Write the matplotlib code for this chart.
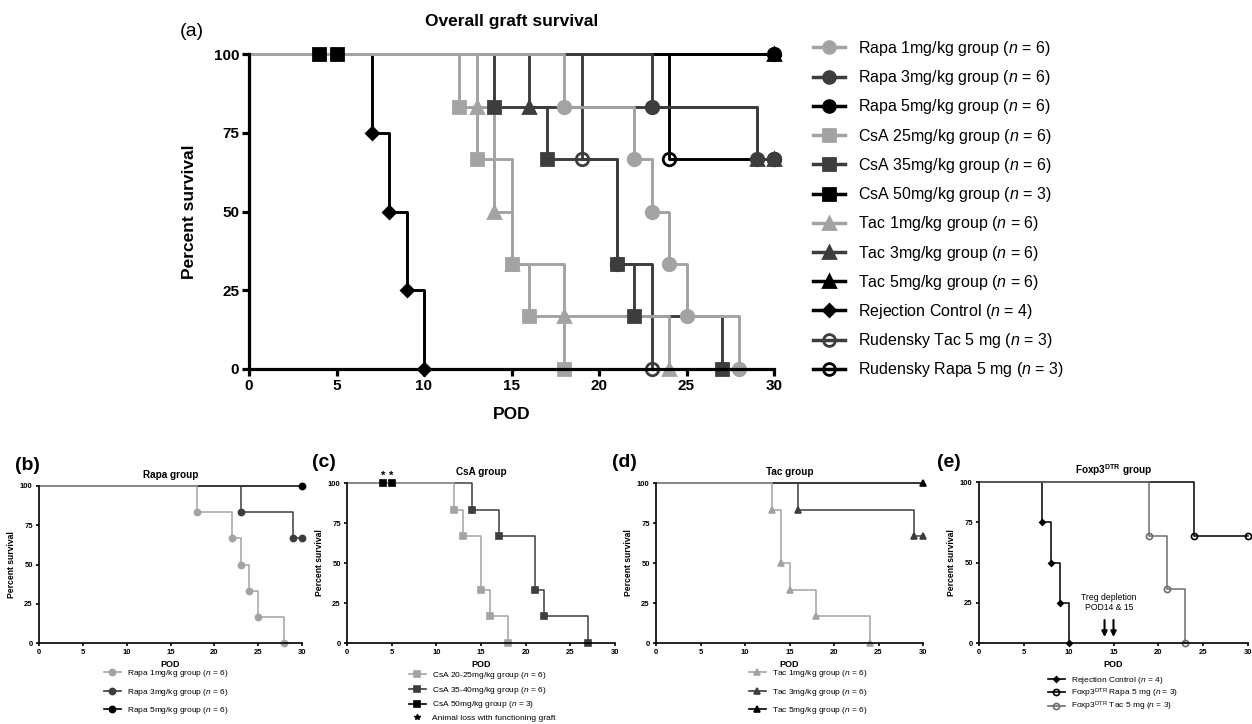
import matplotlib.pyplot as plt
from matplotlib.lines import Line2D

plt.rcParams['font.family'] = ['Liberation Sans', 'DejaVu Sans']
plt.rcParams['mathtext.fontset'] = 'custom'
plt.rcParams['mathtext.rm'] = 'Liberation Sans'
plt.rcParams['mathtext.it'] = 'Liberation Sans:italic'
plt.rcParams['mathtext.bf'] = 'Liberation Sans:bold'

LIGHT = '#a3a3a3'
DARK = '#3d3d3d'
MID = '#6e6e6e'
BLACK = '#000000'

# Kaplan-Meier data: POD of each event, percent survival after it
rapa1_t = [0, 18, 22, 23, 24, 25, 28]
rapa1_s = [100, 83.3, 66.7, 50, 33.3, 16.7, 0]
rapa3_t = [0, 23, 29, 30]
rapa3_s = [100, 83.3, 66.7, 66.7]
rapa5_t = [0, 30]
rapa5_s = [100, 100]
csa25_t = [0, 12, 13, 15, 16, 18]
csa25_s = [100, 83.3, 66.7, 33.3, 16.7, 0]
csa35_t = [0, 14, 17, 21, 22, 27]
csa35_s = [100, 83.3, 66.7, 33.3, 16.7, 0]
csa50_t = [0, 4, 5]
csa50_s = [100, 100, 100]
tac1_t = [0, 13, 14, 15, 18, 24]
tac1_s = [100, 83.3, 50, 33.3, 16.7, 0]
tac3_t = [0, 16, 29, 30]
tac3_s = [100, 83.3, 66.7, 66.7]
tac5_t = [0, 30]
tac5_s = [100, 100]
rej_t = [0, 7, 8, 9, 10]
rej_s = [100, 75, 50, 25, 0]
rud_tac_t = [0, 19, 21, 23]
rud_tac_s = [100, 66.7, 33.3, 0]
rud_rapa_t = [0, 24, 30]
rud_rapa_s = [100, 66.7, 66.7]

xticks = [0, 5, 10, 15, 20, 25, 30]
yticks = [0, 25, 50, 75, 100]

W, H = 1252, 724
fig = plt.figure(figsize=(W / 100, H / 100), dpi=100)


def box(x0, x1, ytop, ybot):
    return [x0 / W, 1 - ybot / H, (x1 - x0) / W, (ybot - ytop) / H]


def km(ax, t, s, color, marker, ms, lw, open_=False, mew=1.0):
    ax.step(t, s, where='post', color=color, lw=lw, clip_on=False, zorder=3)
    ax.plot(t[1:], s[1:], ls='none', marker=marker, ms=ms, color=color,
            mfc='none' if open_ else color, mew=mew, clip_on=False, zorder=4)


def style_axes(ax, lw, fs, tlen):
    ax.set_xlim(0, 30)
    ax.set_ylim(0, 100)
    ax.set_xticks(xticks)
    ax.set_yticks(yticks)
    for side in ['top', 'right']:
        ax.spines[side].set_visible(False)
    for side in ['left', 'bottom']:
        ax.spines[side].set_linewidth(lw)
        ax.spines[side].set_zorder(5)
    ax.tick_params(width=lw, length=tlen, labelsize=fs, pad=2)
    for lab in ax.get_xticklabels() + ax.get_yticklabels():
        lab.set_fontweight('bold')


def lab(text, n):
    return text + r' ($\it{n}$ = ' + str(n) + ')'


# ---------------- panel (a) ----------------
ax = fig.add_axes(box(249, 774, 54, 369))
big = [
    (lab('Rapa 1mg/kg group', 6), rapa1_t, rapa1_s, LIGHT, 'o', False),
    (lab('Rapa 3mg/kg group', 6), rapa3_t, rapa3_s, DARK, 'o', False),
    (lab('Rapa 5mg/kg group', 6), rapa5_t, rapa5_s, BLACK, 'o', False),
    (lab('CsA 25mg/kg group', 6), csa25_t, csa25_s, LIGHT, 's', False),
    (lab('CsA 35mg/kg group', 6), csa35_t, csa35_s, DARK, 's', False),
    (lab('CsA 50mg/kg group', 3), csa50_t, csa50_s, BLACK, 's', False),
    (lab('Tac 1mg/kg group', 6), tac1_t, tac1_s, LIGHT, '^', False),
    (lab('Tac 3mg/kg group', 6), tac3_t, tac3_s, DARK, '^', False),
    (lab('Tac 5mg/kg group', 6), tac5_t, tac5_s, BLACK, '^', False),
    (lab('Rejection Control', 4), rej_t, rej_s, BLACK, 'D', False),
    (lab('Rudensky Tac 5 mg', 3), rud_tac_t, rud_tac_s, DARK, 'o', True),
    (lab('Rudensky Rapa 5 mg', 3), rud_rapa_t, rud_rapa_s, BLACK, 'o', True),
]
order = [BLACK, DARK, LIGHT]
for c in order:
    for name, t, s, col, m, op in big:
        if col == c:
            ms = 6 if m == 'D' else 9
            km(ax, t, s, col, m, ms, 2.1, op, mew=2.0)
style_axes(ax, 2.3, 11, 5)
ax.set_xlabel('POD', fontsize=12.5, fontweight='bold', labelpad=10)
ax.set_ylabel('Percent survival', fontsize=12.5, fontweight='bold', labelpad=12)
ax.set_title('Overall graft survival', fontsize=12.5, fontweight='bold', pad=20)
fig.text(180 / W, 1 - 31 / H, '(a)', fontsize=14, va='center')

handles = []
for name, t, s, col, m, op in big:
    ms = 6 if m == 'D' else 8.5
    handles.append(Line2D([], [], color=col, lw=2.5, marker=m, ms=ms,
                          mfc='none' if op else col, mew=2.0, label=name))
fig.legend(handles=handles, loc='upper left', frameon=False,
           bbox_to_anchor=(813 / W, 1 - 39 / H), fontsize=11.5,
           handlelength=2.0, handletextpad=0.8, labelspacing=0.64,
           borderpad=0, borderaxespad=0)

# ---------------- small panels ----------------
small = [
    ('(b)', 'Rapa group', (39, 302, 486, 643), (15, 465), (104, 668), 0.9, [
        (lab('Rapa 1mg/kg group', 6), rapa1_t, rapa1_s, LIGHT, 'o', False),
        (lab('Rapa 3mg/kg group', 6), rapa3_t, rapa3_s, DARK, 'o', False),
        (lab('Rapa 5mg/kg group', 6), rapa5_t, rapa5_s, BLACK, 'o', False),
    ]),
    ('(c)', 'CsA group', (347, 615, 483, 643), (312, 463), (409, 670), 0.45, [
        (lab('CsA 20-25mg/kg group', 6), csa25_t, csa25_s, LIGHT, 's', False),
        (lab('CsA 35-40mg/kg group', 6), csa35_t, csa35_s, DARK, 's', False),
        (lab('CsA 50mg/kg group', 3), csa50_t, csa50_s, BLACK, 's', False),
    ]),
    ('(d)', 'Tac group', (656, 923, 483, 643), (612, 463), (749, 668), 0.9, [
        (lab('Tac 1mg/kg group', 6), tac1_t, tac1_s, LIGHT, '^', False),
        (lab('Tac 3mg/kg group', 6), tac3_t, tac3_s, DARK, '^', False),
        (lab('Tac 5mg/kg group', 6), tac5_t, tac5_s, BLACK, '^', False),
    ]),
    ('(e)', r'Foxp3$^{\bf DTR}$ group', (979, 1248, 482, 643), (937, 463),
     (1048, 675), 0.05, [
        (lab('Rejection Control', 4), rej_t, rej_s, BLACK, 'D', False),
        (lab(r'Foxp3$^{\rm DTR}$ Rapa 5 mg', 3), rud_rapa_t, rud_rapa_s,
         BLACK, 'o', True),
        (lab(r'Foxp3$^{\rm DTR}$ Tac 5 mg', 3), rud_tac_t, rud_tac_s,
         MID, 'o', True),
    ]),
]

for letter, title, (x0, x1, y0, y1), lpos, legpos, lsp, series in small:
    ax = fig.add_axes(box(x0, x1, y0, y1))
    for c in [BLACK, DARK, MID, LIGHT]:
        for name, t, s, col, m, op in series:
            if col == c:
                ms = 2.8 if m == 'D' else 4.4
                km(ax, t, s, col, m, ms, 1.1, op, mew=1.2)
    style_axes(ax, 1.2, 5.5, 2.5)
    ax.set_xlabel('POD', fontsize=6.5, fontweight='bold', labelpad=3)
    ax.set_ylabel('Percent survival', fontsize=6.2, fontweight='bold', labelpad=3)
    ax.set_title(title, fontsize=7.2, fontweight='bold', pad=6)
    fig.text(lpos[0] / W, 1 - lpos[1] / H, letter, fontsize=14,
             fontweight='bold', va='center')
    hs = []
    for name, t, s, col, m, op in series:
        ms = 2.8 if m == 'D' else 4.4
        hs.append(Line2D([], [], color=col, lw=1.2, marker=m, ms=ms,
                         mfc='none' if op else col, mew=1.2, label=name))
    if letter == '(c)':
        hs.append(Line2D([], [], ls='none', marker='*', ms=4, color=BLACK,
                         label='Animal loss with functioning graft'))
        for x in csa50_t[1:]:
            ax.text(x, 101.5, '*', ha='center', va='bottom', fontsize=8,
                    fontweight='bold', clip_on=False)
    if letter == '(e)':
        ax.text(14.5, 25, 'Treg depletion\nPOD14 & 15', ha='center',
                va='center', fontsize=6.2, linespacing=1.2)
        for x in [14, 15]:
            ax.annotate('', xy=(x, 2), xytext=(x, 16),
                        arrowprops=dict(arrowstyle='-|>', color=BLACK,
                                        lw=1.5, mutation_scale=8))
    fig.legend(handles=hs, loc='upper left', frameon=False,
               bbox_to_anchor=(legpos[0] / W, 1 - legpos[1] / H),
               fontsize=6, handlelength=2.0, handletextpad=0.8,
               labelspacing=lsp, borderpad=0, borderaxespad=0)

fig.savefig('out.png', dpi=100)
